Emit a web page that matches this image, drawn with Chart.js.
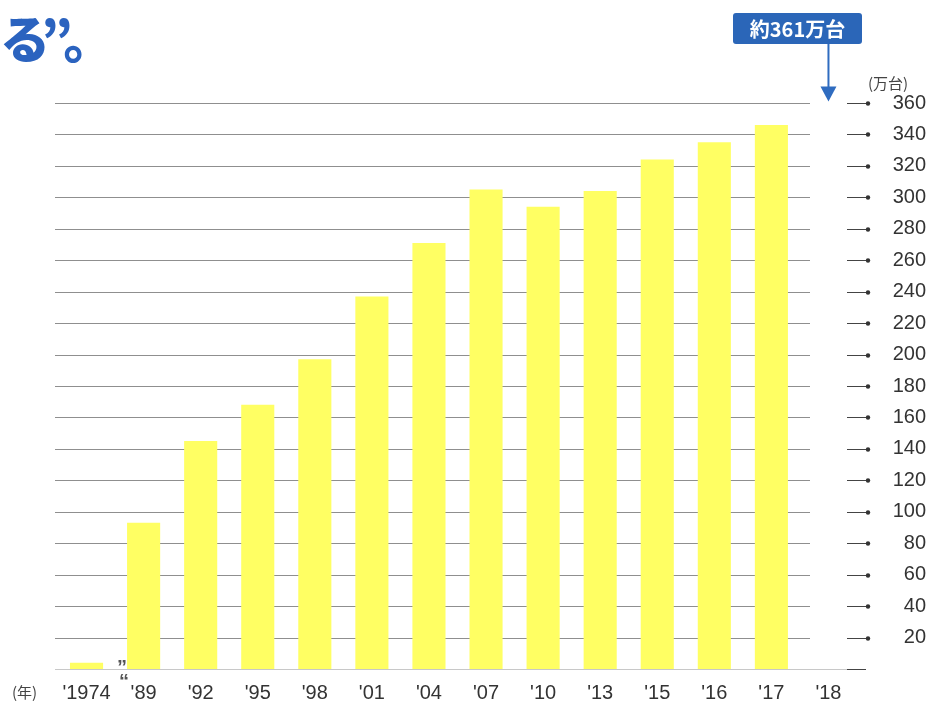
<!DOCTYPE html>
<html>
<head>
<meta charset="utf-8">
<script src="https://cdn.jsdelivr.net/npm/chart.js@4"></script>
<style>
  html, body { margin: 0; padding: 0; background: #fff; }
  #wrap { position: relative; width: 931px; height: 701px; }
  #head { position: absolute; left: 0px; top: 11px; font-family: "Noto Sans CJK JP", sans-serif;
          font-weight: 900; font-size: 50px; line-height: 1; color: #2b63bf; letter-spacing: -9px; }
</style>
</head>
<body>
<div id="wrap">
  <canvas id="chart" width="931" height="701"></canvas>
  <div id="head">る”。</div>
</div>
<script>
// data
var years = ["'1974", "'89", "'92", "'95", "'98", "'01", "'04", "'07", "'10", "'13", "'15", "'16", "'17", "'18"];
var units = [4, 93, 145, 168, 197, 237, 271, 305, 294, 304, 324, 335, 346, null];
var yTicks = [0, 20, 40, 60, 80, 100, 120, 140, 160, 180, 200, 220, 240, 260, 280, 300, 320, 340, 360];
var calloutYear = "'18";
var calloutValue = 361;
var calloutText = "約361万台";

var blue = '#2f6cc0';

var extras = {
  id: 'extras',
  beforeDatasetsDraw: function(chart) {
    var ctx = chart.ctx, y = chart.scales.y;
    ctx.save();
    yTicks.forEach(function(v) {
      var py = Math.round(y.getPixelForValue(v)) + 0.5;
      ctx.strokeStyle = v === 0 ? '#c8c8c8' : '#8f8f8f';
      ctx.lineWidth = 1.2;
      ctx.beginPath();
      ctx.moveTo(55, py);
      ctx.lineTo(v === 0 ? 860 : 810, py);
      ctx.stroke();
      // tick dash + dot
      ctx.strokeStyle = '#444';
      ctx.lineWidth = 1;
      ctx.beginPath();
      ctx.moveTo(847, py);
      ctx.lineTo(866, py);
      ctx.stroke();
      if (v > 0) {
        ctx.fillStyle = '#333';
        ctx.beginPath();
        ctx.arc(868, py, 2.2, 0, Math.PI * 2);
        ctx.fill();
      }
    });
    ctx.restore();
  },
  afterDraw: function(chart) {
    var ctx = chart.ctx, x = chart.scales.x, y = chart.scales.y;
    ctx.save();
    // callout arrow
    var ax = x.getPixelForValue(calloutYear);
    var tip = y.getPixelForValue(calloutValue);
    ctx.strokeStyle = blue;
    ctx.lineWidth = 2;
    ctx.beginPath();
    ctx.moveTo(ax, 43);
    ctx.lineTo(ax, tip - 12);
    ctx.stroke();
    ctx.fillStyle = blue;
    ctx.beginPath();
    ctx.moveTo(ax - 8, tip - 15);
    ctx.lineTo(ax + 8, tip - 15);
    ctx.lineTo(ax, tip);
    ctx.closePath();
    ctx.fill();
    // callout box
    var bx = 733, by = 13, bw = 129, bh = 31, r = 3;
    ctx.fillStyle = '#2b66b8';
    ctx.beginPath();
    ctx.moveTo(bx + r, by);
    ctx.arcTo(bx + bw, by, bx + bw, by + bh, r);
    ctx.arcTo(bx + bw, by + bh, bx, by + bh, r);
    ctx.arcTo(bx, by + bh, bx, by, r);
    ctx.arcTo(bx, by, bx + bw, by, r);
    ctx.closePath();
    ctx.fill();
    ctx.fillStyle = '#fff';
    ctx.font = 'bold 20px "Noto Sans CJK JP", sans-serif';
    ctx.textAlign = 'center';
    ctx.textBaseline = 'middle';
    ctx.fillText(calloutText, bx + bw / 2, by + bh / 2 + 1);
    // unit labels
    ctx.fillStyle = '#444';
    ctx.font = '15px "Noto Sans CJK JP", sans-serif';
    ctx.textAlign = 'left';
    ctx.fillText('(万台)', 868, 83);
    ctx.fillText('(年)', 12, 692);
    // axis break marks
    ctx.font = 'bold 20px "Liberation Sans", sans-serif';
    ctx.fillStyle = '#555';
    ctx.fillText('”', 117, 668);
    ctx.fillText('“', 119, 682);
    ctx.restore();
  }
};

new Chart(document.getElementById('chart'), {
  type: 'bar',
  data: {
    labels: years,
    datasets: [{
      data: units,
      backgroundColor: '#ffff63',
      borderWidth: 0,
      barPercentage: 0.58,
      categoryPercentage: 1
    }]
  },
  options: {
    responsive: false,
    animation: false,
    layout: { padding: { top: 103, left: 58, right: 5, bottom: 0 } },
    plugins: { legend: { display: false }, tooltip: { enabled: false } },
    scales: {
      x: {
        grid: { display: false },
        border: { display: false },
        ticks: {
          color: '#333',
          font: { family: '"Liberation Sans", Arial, sans-serif', size: 20 },
          padding: 4,
          maxRotation: 0,
          autoSkip: false
        },
        afterFit: function(s) { s.height = 32; }
      },
      y: {
        position: 'right',
        min: 0,
        max: 360,
        afterBuildTicks: function(s) { s.ticks = yTicks.map(function(v) { return { value: v }; }); },
        grid: { display: false },
        border: { display: false },
        ticks: {
          color: '#333',
          font: { family: '"Liberation Sans", Arial, sans-serif', size: 20 },
          crossAlign: 'far',
          padding: 4,
          callback: function(v) { return v === 0 ? '' : v; }
        },
        afterFit: function(s) { s.width = 69; }
      }
    }
  },
  plugins: [extras]
});
</script>
</body>
</html>
